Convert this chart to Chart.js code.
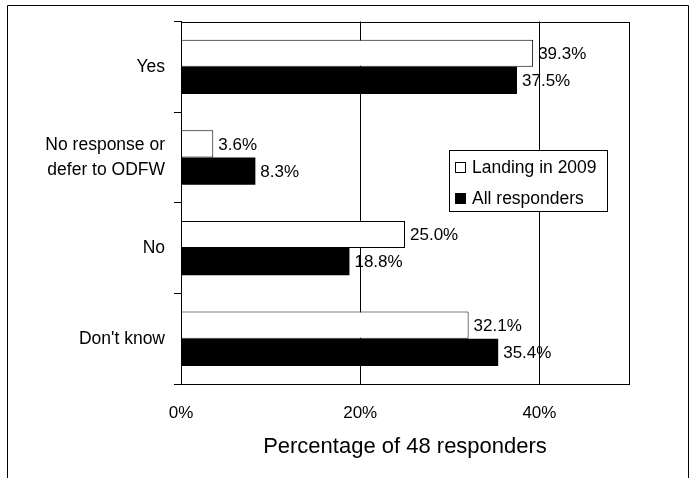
<!DOCTYPE html>
<html>
<head>
<meta charset="utf-8">
<script src="https://cdn.jsdelivr.net/npm/chart.js@4/dist/chart.umd.min.js"></script>
<style>
  body { margin: 0; background: #fff; }
</style>
</head>
<body>
<canvas id="chart" width="692" height="478"></canvas>
<script>
// values
var categories = ["Yes", ["No response or", "defer to ODFW"], "No", "Don't know"];
var landing2009 = [39.3, 3.6, 25.0, 32.1];
var allResponders = [37.5, 8.3, 18.8, 35.4];
var xTicks = [0, 20, 40];
var seriesNames = ["Landing in 2009", "All responders"];

var fontName = "'Liberation Sans', Arial, sans-serif";
Chart.defaults.color = "#000";
Chart.defaults.font.family = fontName;

// page frame (left, top, right lines only - bottom is cut off)
var framePlugin = {
  id: "frame",
  beforeDraw: function(chart){
    var ctx = chart.ctx;
    ctx.save();
    ctx.strokeStyle = "#000";
    ctx.lineWidth = 1;
    ctx.beginPath();
    ctx.moveTo(7.5, 480);
    ctx.lineTo(7.5, 5.5);
    ctx.lineTo(688.5, 5.5);
    ctx.lineTo(688.5, 480);
    ctx.stroke();
    ctx.restore();
  },
  afterDraw: function(chart){
    var a = chart.chartArea;
    var ctx = chart.ctx;
    ctx.save();
    ctx.strokeStyle = "#000";
    ctx.lineWidth = 1;
    ctx.strokeRect(Math.round(a.left) + 0.5, Math.round(a.top) + 0.5, Math.round(a.right - a.left), Math.round(a.bottom - a.top));
    ctx.restore();
  }
};

// value labels at the end of each bar
var labelPlugin = {
  id: "barLabels",
  afterDatasetsDraw: function(chart){
    var ctx = chart.ctx;
    ctx.save();
    ctx.font = "17px " + fontName;
    ctx.fillStyle = "#000";
    ctx.textBaseline = "middle";
    ctx.textAlign = "left";
    chart.data.datasets.forEach(function(ds, i){
      chart.getDatasetMeta(i).data.forEach(function(bar, j){
        ctx.fillText(ds.data[j].toFixed(1) + "%", bar.x + 5, bar.y + 1);
      });
    });
    ctx.restore();
  }
};

// legend box inside the plot
var legendPlugin = {
  id: "boxLegend",
  afterDraw: function(chart){
    var ctx = chart.ctx;
    var x = 449, y = 150, w = 158, h = 61;
    ctx.save();
    ctx.fillStyle = "#fff";
    ctx.fillRect(x, y, w, h);
    ctx.strokeStyle = "#000";
    ctx.lineWidth = 1;
    ctx.strokeRect(x + 0.5, y + 0.5, w, h);
    ctx.font = "17.5px " + fontName;
    ctx.textBaseline = "middle";
    chart.data.datasets.forEach(function(ds, i){
      var cy = y + 17 + i * 31;
      ctx.fillStyle = ds.backgroundColor;
      ctx.fillRect(x + 6, cy - 5, 11, 11);
      ctx.strokeRect(x + 6.5, cy - 4.5, 10, 10);
      ctx.fillStyle = "#000";
      ctx.fillText(ds.label, x + 23, cy + 1);
    });
    ctx.restore();
  }
};

new Chart(document.getElementById("chart"), {
  type: "bar",
  data: {
    labels: categories,
    datasets: [{
      label: seriesNames[0],
      data: landing2009,
      backgroundColor: "#ffffff",
      borderColor: "#000000",
      borderWidth: 1,
      categoryPercentage: 0.6,
      barPercentage: 1.0
    }, {
      label: seriesNames[1],
      data: allResponders,
      backgroundColor: "#000000",
      borderColor: "#000000",
      borderWidth: 0,
      categoryPercentage: 0.6,
      barPercentage: 1.0
    }]
  },
  options: {
    indexAxis: "y",
    responsive: false,
    animation: false,
    layout: { padding: { top: 21, right: 63, bottom: 0, left: 0 } },
    plugins: {
      legend: { display: false },
      tooltip: { enabled: false }
    },
    scales: {
      x: {
        min: 0,
        max: 50,
        afterBuildTicks: function(scale){
          scale.ticks = xTicks.map(function(v){ return { value: v }; });
        },
        afterFit: function(scale){ scale.height = 94; },
        ticks: {
          padding: 19,
          font: { size: 17 },
          callback: function(v){ return v + "%"; }
        },
        grid: { color: "#000", lineWidth: 1, drawTicks: false },
        border: { color: "#000" },
        title: {
          display: true,
          text: "Percentage of 48 responders",
          font: { size: 22 },
          padding: { top: 0, bottom: 18 }
        }
      },
      y: {
        afterFit: function(scale){ scale.width = 181; },
        ticks: {
          padding: 9,
          font: { size: 17.5, lineHeight: 1.43 }
        },
        grid: { drawOnChartArea: false, drawTicks: true, tickLength: 7, color: "#000" },
        border: { color: "#000" }
      }
    }
  },
  plugins: [framePlugin, labelPlugin, legendPlugin]
});
</script>
</body>
</html>
